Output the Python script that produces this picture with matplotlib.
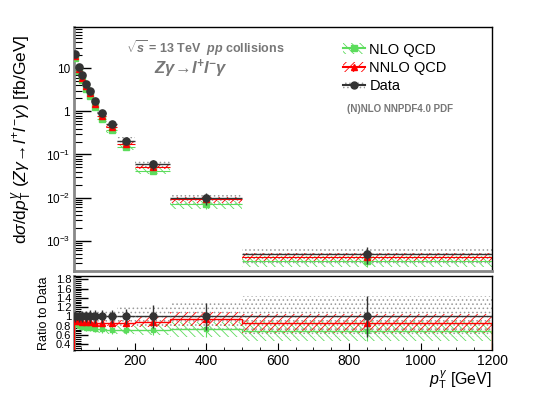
import matplotlib
matplotlib.use('Agg')
import matplotlib.pyplot as plt
import numpy as np
from matplotlib.patches import Patch
from matplotlib.lines import Line2D
from matplotlib.ticker import LogLocator, FixedLocator, MultipleLocator, FuncFormatter, NullFormatter

plt.rcParams['font.family'] = ['Liberation Sans', 'DejaVu Sans']
plt.rcParams['mathtext.fontset'] = 'custom'
plt.rcParams['mathtext.rm'] = 'Liberation Sans'
plt.rcParams['mathtext.it'] = 'Liberation Sans:italic'
plt.rcParams['mathtext.bf'] = 'Liberation Sans:bold'
plt.rcParams['mathtext.bfit'] = 'Liberation Sans:italic:bold'
plt.rcParams['hatch.linewidth'] = 0.6

# pT^gamma bins [GeV]
edges = np.array([30, 38, 48, 58, 68, 80, 95, 120, 150, 200, 300, 500, 1200])

# cross sections [fb/GeV]
data = np.array([21, 10.9, 6.8, 4.3, 3.0, 1.69, 0.91, 0.506, 0.21, 0.059, 0.0097, 5.0e-4])
nnlo = np.array([18.9, 9.8, 6.05, 3.78, 2.64, 1.47, 0.79, 0.435, 0.179, 0.052, 0.0091, 4.25e-4])
nlo = np.array([17.6, 8.7, 5.3, 3.27, 2.25, 1.25, 0.66, 0.364, 0.149, 0.0425, 0.0070, 3.45e-4])

# relative uncertainties
data_err = np.array([0.12, 0.12, 0.12, 0.12, 0.13, 0.13, 0.14, 0.15, 0.17, 0.25, 0.30, 0.43])
data_band = np.array([0.10, 0.10, 0.10, 0.11, 0.11, 0.12, 0.13, 0.15, 0.20, 0.24, 0.29, 0.44])
nnlo_unc = np.array([0.05, 0.05, 0.05, 0.05, 0.06, 0.06, 0.07, 0.08, 0.09, 0.12, 0.16, 0.25])
nlo_unc = np.array([0.08, 0.08, 0.08, 0.09, 0.09, 0.10, 0.11, 0.12, 0.13, 0.17, 0.22, 0.30])

centers = 0.5 * (edges[1:] + edges[:-1])
halfw = 0.5 * (edges[1:] - edges[:-1])
widths = edges[1:] - edges[:-1]

c_data = '#333333'
c_nnlo = '#ff0000'
c_nlo = '#5cdc5c'
c_band = '#999999'
c_text = '#777777'

fig = plt.figure(figsize=(5.45, 3.93), dpi=100)
ax = fig.add_axes([0.1358, 0.3104, 0.767, 0.621])
rx = fig.add_axes([0.1358, 0.1094, 0.767, 0.1883])


def boxes(a, y, rel, color, hatch, z):
    a.bar(edges[:-1], 2 * rel * y, width=widths, bottom=y * (1 - rel), align='edge',
          facecolor='none', edgecolor=color, hatch=hatch, linewidth=0, zorder=z)


# top panel
boxes(ax, data, data_band, c_band, '....', 1)
boxes(ax, nlo, nlo_unc, c_nlo, '\\\\\\\\', 2)
boxes(ax, nnlo, nnlo_unc, c_nnlo, '////', 2)
ax.errorbar(centers, nlo, xerr=halfw, yerr=nlo * nlo_unc, fmt='s', ms=3.8, color=c_nlo,
            elinewidth=0.8, capsize=0, zorder=3)
ax.errorbar(centers, nnlo, xerr=halfw, yerr=nnlo * nnlo_unc, fmt='^', ms=4.2, color=c_nnlo,
            elinewidth=0.8, capsize=0, zorder=4)
ax.errorbar(centers, data, xerr=halfw, yerr=data * data_err, fmt='o', ms=5.2, color=c_data,
            elinewidth=1.0, capsize=0, zorder=5)

ax.set_yscale('log')
ax.set_xlim(30, 1200)
ax.set_ylim(2e-4, 90)


def log_fmt(v, pos):
    e = int(round(np.log10(v)))
    if e == 0:
        return '1'
    if e == 1:
        return '10'
    return r'$10^{%d}$' % e


ax.yaxis.set_major_locator(LogLocator(base=10, numticks=20))
ax.yaxis.set_minor_locator(LogLocator(base=10, subs=np.arange(2, 10), numticks=20))
ax.yaxis.set_major_formatter(FuncFormatter(log_fmt))
ax.yaxis.set_minor_formatter(NullFormatter())
ax.tick_params(axis='y', which='major', direction='in', length=12, width=1.0, labelsize=8.5, pad=3)
ax.tick_params(axis='y', which='minor', direction='in', length=6, width=0.8)
ax.tick_params(axis='x', which='both', bottom=False, labelbottom=False)
ax.set_ylabel(r'd$\sigma$/d$p_{\rm T}^{\gamma}$ ($Z\gamma\!\rightarrow\! l^{+}l^{-}\gamma$) [fb/GeV]',
              fontsize=12.5, labelpad=4)
ax.yaxis.set_label_coords(-0.095, 0.54)

for a in (ax, rx):
    a.spines['left'].set_color('#888888')
    a.spines['left'].set_linewidth(2)
    a.spines['top'].set_linewidth(1.0)
    a.spines['right'].set_linewidth(1.0)
ax.spines['bottom'].set_color('#888888')
ax.spines['bottom'].set_linewidth(2)

ax.text(0.315, 0.915, r'$\sqrt{\mathbfit{s}}$ = 13 TeV  $\mathbfit{pp}$ collisions', transform=ax.transAxes,
        ha='center', va='center', fontsize=9, color=c_text, fontweight='bold')
ax.text(0.28, 0.83, r'$\mathbfit{Z\gamma\!\rightarrow\! l^{+}l^{-}\gamma}$', transform=ax.transAxes,
        ha='center', va='center', fontsize=12, color=c_text)
ax.text(0.652, 0.662, '(N)NLO NNPDF4.0 PDF', transform=ax.transAxes,
        ha='left', va='center', fontsize=7, color=c_text, fontweight='bold')

h_nlo = (Patch(facecolor='none', edgecolor=c_nlo, hatch='\\\\\\\\', linewidth=0),
         Line2D([], [], color=c_nlo, marker='s', ms=4))
h_nnlo = (Patch(facecolor='none', edgecolor=c_nnlo, hatch='////', linewidth=0),
          Line2D([], [], color=c_nnlo, marker='^', ms=4.5))
h_data = (Patch(facecolor='none', edgecolor=c_band, hatch='....', linewidth=0),
          Line2D([], [], color=c_data, marker='o', ms=5))
ax.legend([h_nlo, h_nnlo, h_data], ['NLO QCD', 'NNLO QCD', 'Data'],
          loc='upper left', bbox_to_anchor=(0.63, 0.96), frameon=False, fontsize=10.5,
          handlelength=1.5, handletextpad=0.3, labelspacing=0.3, borderaxespad=0)

# ratio panel
r_nnlo = nnlo / data
r_nlo = nlo / data
ones = np.ones_like(data)
boxes(rx, ones, data_band, c_band, '....', 1)
boxes(rx, r_nlo, nlo_unc, c_nlo, '\\\\\\\\', 2)
boxes(rx, r_nnlo, nnlo_unc, c_nnlo, '////', 2)
rx.stairs(r_nlo, edges, color=c_nlo, linewidth=1.0, zorder=3)
rx.stairs(r_nnlo, edges, color=c_nnlo, linewidth=1.0, zorder=4)
rx.errorbar(centers, r_nlo, yerr=r_nlo * nlo_unc, fmt='s', ms=3.5, color=c_nlo,
            elinewidth=0.8, capsize=0, zorder=3)
rx.errorbar(centers, r_nnlo, yerr=r_nnlo * nnlo_unc, fmt='^', ms=4, color=c_nnlo,
            elinewidth=0.8, capsize=0, zorder=4)
rx.errorbar(centers, ones, xerr=halfw, yerr=data_err, fmt='o', ms=5, color=c_data,
            elinewidth=1.0, capsize=0, zorder=5)

rx.set_xlim(30, 1200)
rx.set_ylim(0.28, 1.87)
rx.yaxis.set_major_locator(FixedLocator([0.4, 0.6, 0.8, 1.0, 1.2, 1.4, 1.6, 1.8]))
rx.yaxis.set_major_formatter(FuncFormatter(lambda v, p: '1' if abs(v - 1) < 1e-6 else '%.1f' % v))
rx.yaxis.set_minor_locator(MultipleLocator(0.04))
rx.xaxis.set_major_locator(MultipleLocator(200))
rx.xaxis.set_minor_locator(MultipleLocator(50))
rx.tick_params(axis='y', which='major', direction='in', length=10, width=1.0, labelsize=8, pad=2)
rx.tick_params(axis='y', which='minor', direction='in', length=5, width=0.8)
rx.tick_params(axis='x', which='major', direction='in', length=5, labelsize=10, pad=3)
rx.tick_params(axis='x', which='minor', direction='in', length=2.5)
rx.set_ylabel('Ratio to Data', fontsize=9, labelpad=4)
rx.set_xlabel(r'$p_{\rm T}^{\gamma}$ [GeV]', fontsize=11.5, loc='right', labelpad=0)

fig.savefig('out.png', dpi=100)
